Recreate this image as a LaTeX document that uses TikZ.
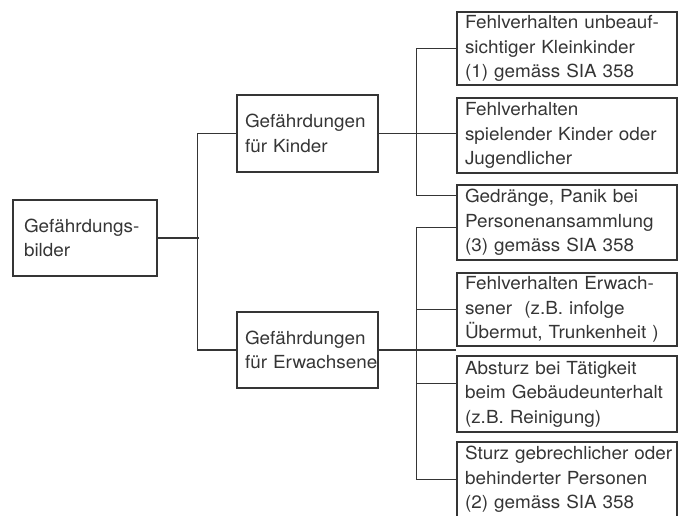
\documentclass[tikz,border=0pt]{standalone}
\usepackage{fontspec}
\setmainfont[FakeStretch=1.05]{TeX Gyre Heros}
\usetikzlibrary{calc}
\definecolor{ink}{HTML}{353535}
\newcommand\boxfont{\fontsize{18}{24.5}\selectfont\hbadness=10000\relax\hfuzz=80pt\relax}
\newcommand\tl[1]{\mbox{#1}}
\begin{document}
\begin{tikzpicture}[x=1pt,y=-1pt,
  box/.style={draw=ink, line width=1.2pt, text=ink, rectangle, align=left,
    inner xsep=8pt, inner ysep=0pt, font=\boxfont},
  rbox/.style={box, minimum width=220pt, text width=204pt},
  mbox/.style={box, minimum width=141pt, text width=125pt},
  conn/.style={draw=ink, line width=1.2pt}]
\useasboundingbox (0,0) rectangle (680,515);
% root
\node[box, minimum width=144pt, text width=122pt, inner xsep=11pt, minimum height=76pt] (root) at (85,238) {\tl{Gefährdungs-}\\\tl{bilder}};
% middle
\node[mbox, minimum height=77pt] (k) at (307.5,133.5) {\tl{Gefährdungen}\\\tl{für Kinder}};
\node[mbox, minimum height=76pt] (e) at (307.5,350) {\tl{Gefährdungen}\\\tl{für Erwachsene}};
% right
\node[rbox, minimum height=73pt] (b1) at (567,48.5) {\tl{Fehlverhalten unbeauf-}\\\tl{sichtiger Kleinkinder}\\\tl{(1) gemäss SIA 358}};
\node[rbox, minimum height=75pt] (b2) at (567,135.5) {\tl{Fehlverhalten}\\\tl{spielender Kinder oder}\\\tl{Jugendlicher}};
\node[rbox, minimum height=75pt] (b3) at (567,222.5) {\tl{Gedränge, Panik bei}\\\tl{Personenansammlung}\\\tl{(3) gemäss SIA 358}};
\node[rbox, minimum height=73pt] (b4) at (567,309.5) {\tl{Fehlverhalten Erwach-}\\\tl{sener~ (z.B. infolge}\\\tl{Übermut, Trunkenheit )}};
\node[rbox, minimum height=76pt] (b5) at (567,394) {\tl{Absturz bei Tätigkeit}\\\tl{beim Gebäudeunterhalt}\\\tl{(z.B. Reinigung)}};
\node[rbox, minimum height=75pt] (b6) at (567,479.5) {\tl{Sturz gebrechlicher oder}\\\tl{behinderter Personen}\\\tl{(2) gemäss SIA 358}};
% connector points
\path (b3.north west) ++(0,11) coordinate (c3a);
\path (b3.north west) ++(0,43) coordinate (c3b);
\path (b5.north west) ++(0,28) coordinate (c5);
% root bus
\draw[conn] (root.east) -- ++(41,0);
\draw[conn] (k.west) -- ++(-39,0) |- (e.west);
% Kinder bus
\draw[conn] (k.east) -- (k.east -| b2.west);
\draw[conn] (b1.west) -- ++(-40,0) |- (c3a);
% Erwachsene bus
\draw[conn] (e.east) -- (e.east -| b4.west);
\draw[conn] (c3b) -- ++(-40,0) |- (b6.west);
\draw[conn] (b4.west) -- ++(-40,0);
\draw[conn] (c5) -- ++(-40,0);
\end{tikzpicture}
\end{document}
